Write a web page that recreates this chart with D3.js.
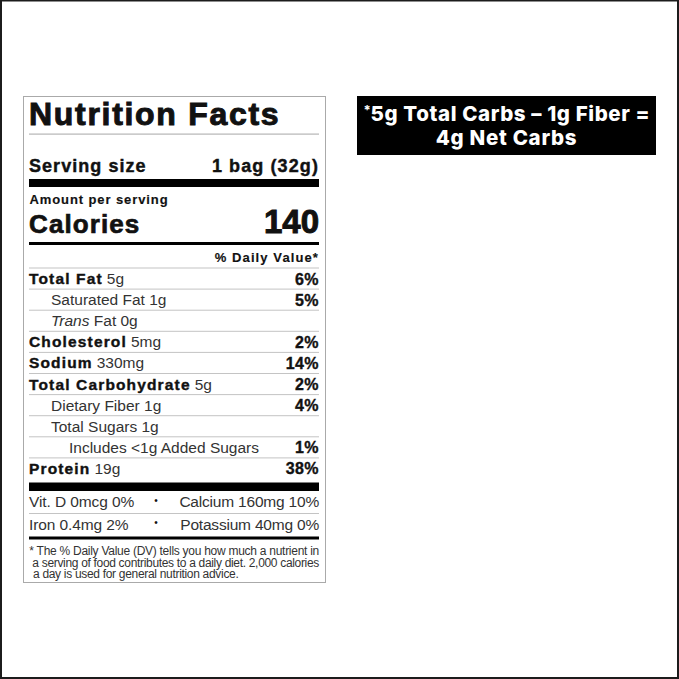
<!DOCTYPE html>
<html>
<head>
<meta charset="utf-8">
<script src="https://cdn.jsdelivr.net/npm/d3@7"></script>
<style>
html, body { margin: 0; padding: 0; background: #fff; overflow: hidden; }
svg { display: block; }
text { font-family: "Liberation Sans", Arial, sans-serif; fill: #111; }
.heavy { font-weight: bold; stroke: #111; paint-order: stroke; }
.light { fill: #333; }
</style>
</head>
<body>
<script>
// label text
var title = "Nutrition Facts";
var servingLabel = "Serving size", servingValue = "1 bag (32g)";
var amountLabel = "Amount per serving";
var caloriesLabel = "Calories", caloriesValue = 140;
var dailyHeader = "% Daily Value*";

// nutrient rows
var rowNames = ["Total Fat", "Saturated Fat", "Trans Fat", "Cholesterol", "Sodium", "Total Carbohydrate", "Dietary Fiber", "Total Sugars", "Includes <1g Added Sugars", "Protein"];
var rowAmounts = ["5g", "1g", "0g", "5mg", "330mg", "5g", "1g", "1g", "", "19g"];
var rowDaily = [6, 5, null, 2, 14, 2, 4, null, 1, 38];
var rowLevels = [0, 1, 1, 0, 0, 0, 1, 1, 2, 0];

// vitamins, two per line
var vitLeft = ["Vit. D 0mcg 0%", "Iron 0.4mg 2%"];
var vitRight = ["Calcium 160mg 10%", "Potassium 40mg 0%"];

var footnote = ["* The % Daily Value (DV) tells you how much a nutrient in", "a serving of food contributes to a daily diet. 2,000 calories", "a day is used for general nutrition advice."];
var carbNote = ["5g Total Carbs \u2013 1g Fiber =", "4g Net Carbs"];

var width = 679, height = 679;
var left = 29, right = 319;

var svg = d3.select("body").append("svg").attr("width", width).attr("height", height);

// outer frame
svg.append("rect").attr("x", 1).attr("y", 0.5).attr("width", width - 2).attr("height", height - 1.5)
    .attr("fill", "#fff").attr("stroke", "#1c1c1c").attr("stroke-width", 2);

// label panel
svg.append("rect").attr("x", 23.5).attr("y", 96.5).attr("width", 302).attr("height", 486)
    .attr("fill", "#fff").attr("stroke", "#aaa").attr("stroke-width", 1);

function rule(y, h, color) {
    svg.append("rect").attr("x", left).attr("y", y).attr("width", right - left).attr("height", h).attr("fill", color);
}

function label(x, y, str, size, cls, anchor, spacing, weight) {
    return svg.append("text").attr("x", x).attr("y", y).text(str)
        .attr("class", cls)
        .attr("text-anchor", anchor || "start")
        .style("font-size", size + "px")
        .style("letter-spacing", (spacing || 0) + "px")
        .style("stroke-width", weight || 0);
}

label(left, 125, title, 32, "heavy", "start", 1.7, 1);
rule(133.5, 1.2, "#b5b5b5");

label(left, 171.5, servingLabel, 18, "heavy", "start", 1.05, 0.4);
label(right, 171.5, servingValue, 18, "heavy", "end", 1.1, 0.4);
rule(179, 8, "#000");

label(left + 0.5, 204, amountLabel, 13, "heavy", "start", 0.9, 0.15);
label(left, 232.5, caloriesLabel, 26, "heavy", "start", 1.1, 0.7);
label(right, 232.5, caloriesValue, 33, "heavy", "end", 0, 1);
rule(242, 3, "#000");

label(right, 262, dailyHeader, 13, "heavy", "end", 1.1, 0.15);

// nutrient table
var rowScale = d3.scaleBand().domain(rowNames).range([268, 479]);
var indent = d3.scaleOrdinal().domain([0, 1, 2]).range([left, left + 22, left + 40]);

rowNames.forEach(function(name, i) {
    var top = rowScale(name), base = top + 16;
    rule(top - 0.5, 1, "#c4c4c4");

    var t = svg.append("text").attr("x", indent(rowLevels[i])).attr("y", base).style("font-size", "15.5px");
    if (rowLevels[i] === 0) {
        t.append("tspan").attr("class", "heavy").style("letter-spacing", "1.15px").style("stroke-width", 0.4).text(name);
        t.append("tspan").attr("class", "light").attr("dx", 4).text(rowAmounts[i]);
    } else if (name.indexOf("Trans") === 0) {
        t.append("tspan").attr("class", "light").style("font-style", "italic").text("Trans");
        t.append("tspan").attr("class", "light").text(" Fat " + rowAmounts[i]);
    } else {
        t.append("tspan").attr("class", "light").text(rowAmounts[i] ? name + " " + rowAmounts[i] : name);
    }
    if (rowDaily[i] !== null) {
        label(right, base + 0.5, rowDaily[i] + "%", 16, "heavy", "end", 0.4, 0.35);
    }
});
rule(482.5, 8.5, "#000");

// vitamins
var vitScale = d3.scaleBand().domain(d3.range(vitLeft.length)).range([491, 536.5]);
vitLeft.forEach(function(v, i) {
    var base = vitScale(i) + 16;
    label(left, base, v, 15.5, "light", "start", -0.1);
    label(156, base - 3.5, "\u2022", 10, "", "middle");
    label(right, base, vitRight[i], 15.5, "light", "end", -0.2);
});
rule(513, 1, "#c4c4c4");
rule(536.5, 3, "#000");

// footnote
label(right, 554.5, footnote[0], 12, "light", "end", -0.27);
label(right, 566.5, footnote[1], 12, "light", "end", -0.32);
label(left + 4, 578, footnote[2], 12, "light", "start", -0.31);

// net carbs box
var boxX = d3.scaleLinear().domain([0, 1]).range([357, 656]);
svg.append("rect").attr("x", boxX(0)).attr("y", 96).attr("width", boxX(1) - boxX(0)).attr("height", 59).attr("fill", "#000");
carbNote.forEach(function(line, i) {
    svg.append("text").attr("x", i === 0 ? boxX(0.513) : boxX(0.5)).attr("y", 120.5 + i * 24.5)
        .attr("text-anchor", "middle")
        .style("font-family", "Inter, 'Open Sans', sans-serif")
        .style("font-weight", 800).style("font-size", "20.5px")
        .style("letter-spacing", i === 0 ? "0.6px" : "0.7px")
        .style("fill", "#fff").text(line);
});
svg.append("text").attr("x", 363.5).attr("y", 114.5).text("*")
    .style("font-family", "Inter, sans-serif").style("font-weight", 700).style("font-size", "13px").style("fill", "#fff");
</script>
</body>
</html>
